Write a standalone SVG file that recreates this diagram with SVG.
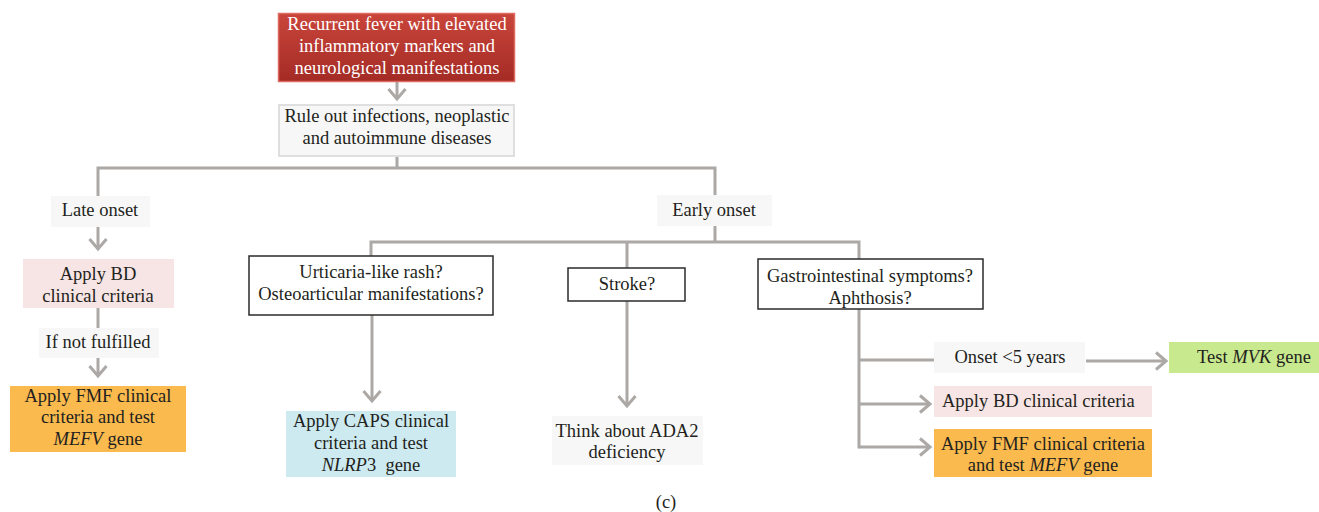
<svg xmlns="http://www.w3.org/2000/svg" width="1319" height="512" viewBox="0 0 1319 512">
<defs>
  <linearGradient id="redGrad" x1="0" y1="0" x2="0" y2="1">
    <stop offset="0" stop-color="#c9453b"/>
    <stop offset="1" stop-color="#a42b25"/>
  </linearGradient>
  <marker id="chev" markerUnits="userSpaceOnUse" markerWidth="24" markerHeight="24" refX="0" refY="0" viewBox="-12 -12 24 24" orient="auto" overflow="visible">
    <path d="M-10,-8.5 L0,0 L-10,8.5" fill="none" stroke="#aba8a5" stroke-width="3"/>
  </marker>
</defs>
<style>
  .t { font-family: "Liberation Serif", "Times New Roman", serif; font-size: 18.5px; fill: #231f20; }
  .c { text-anchor: middle; }
  .w { fill: #ffffff; }
  .i { font-style: italic; }
  .ln { fill: none; stroke: #aba8a5; stroke-width: 3; }
  .arr { fill: none; stroke: #aba8a5; stroke-width: 3; marker-end: url(#chev); }
  .grey { fill: #f7f7f7; }
  .q { fill: #ffffff; stroke: #2b2b2b; stroke-width: 1.5; }
  .pink { fill: #f7e4e4; }
  .orange { fill: #fbba4d; }
  .blue { fill: #cdeaf1; }
  .green { fill: #c8e98e; }
</style>

<g id="connectors">
  <path class="arr" d="M397,82 V99"/>
  <path class="ln" d="M397,156 V168 M98,168 H715 M98,166.5 V196 M715,166.5 V195"/>
  <path class="arr" d="M98,227 V249"/>
  <path class="ln" d="M98,308 V328"/>
  <path class="arr" d="M98,358 V376"/>
  <path class="ln" d="M715,226 V242 M371,242 H859 M371,240.5 V256 M627,242 V268 M859,240.5 V259"/>
  <path class="arr" d="M372,315 V401"/>
  <path class="arr" d="M627,301 V406"/>
  <path class="ln" d="M859,309 V447 M859,360 H934 M857.5,447 H860"/>
  <path class="arr" d="M859,404 H930"/>
  <path class="arr" d="M859,447 H930"/>
  <path class="arr" d="M1086,361 H1166"/>
</g>

<g id="n-fever">
  <rect x="278.5" y="13.5" width="236" height="68" fill="url(#redGrad)" stroke="#df6a60" stroke-width="1.5"/>
  <text class="t c w" x="397" y="30">Recurrent fever with elevated</text>
  <text class="t c w" x="397" y="52">inflammatory markers and</text>
  <text class="t c w" x="397" y="74">neurological manifestations</text>
</g>

<g id="n-ruleout">
  <rect x="279" y="105" width="235" height="51" fill="#f7f7f7" stroke="#dfdfdf" stroke-width="2"/>
  <text class="t c" x="397" y="122">Rule out infections, neoplastic</text>
  <text class="t c" x="397" y="144">and autoimmune diseases</text>
</g>

<g id="n-late">
  <rect class="grey" x="51" y="196" width="99" height="31"/>
  <text class="t c" x="100" y="216">Late onset</text>
</g>

<g id="n-bd-left">
  <rect class="pink" x="23" y="259" width="151" height="49"/>
  <text class="t c" x="98" y="280">Apply BD</text>
  <text class="t c" x="98" y="302">clinical criteria</text>
</g>

<g id="n-notfulfilled">
  <rect class="grey" x="39" y="328" width="120" height="30"/>
  <text class="t c" x="98" y="348">If not fulfilled</text>
</g>

<g id="n-fmf-left">
  <rect class="orange" x="10" y="386" width="176" height="66"/>
  <text class="t c" x="98" y="402">Apply FMF clinical</text>
  <text class="t c" x="98" y="423">criteria and test</text>
  <text class="t c" x="98" y="445"><tspan class="i">MEFV</tspan> gene</text>
</g>

<g id="n-early">
  <rect class="grey" x="657" y="195" width="115" height="31"/>
  <text class="t c" x="714" y="216">Early onset</text>
</g>

<g id="n-urticaria">
  <rect class="q" x="249" y="256" width="244" height="59"/>
  <text class="t c" x="371" y="278">Urticaria-like rash?</text>
  <text class="t c" x="371" y="300">Osteoarticular manifestations?</text>
</g>

<g id="n-stroke">
  <rect class="q" x="568" y="268" width="117" height="33"/>
  <text class="t c" x="627" y="290">Stroke?</text>
</g>

<g id="n-gi">
  <rect class="q" x="758" y="259" width="225" height="50"/>
  <text class="t c" x="870" y="282">Gastrointestinal symptoms?</text>
  <text class="t c" x="870" y="304">Aphthosis?</text>
</g>

<g id="n-caps">
  <rect class="blue" x="286" y="411" width="170" height="66"/>
  <text class="t c" x="371" y="427">Apply CAPS clinical</text>
  <text class="t c" x="371" y="449">criteria and test</text>
  <text class="t c" x="371" y="471"><tspan class="i">NLRP</tspan>3&#160; gene</text>
</g>

<g id="n-ada2">
  <rect class="grey" x="552" y="416" width="151" height="49"/>
  <text class="t c" x="627" y="437">Think about ADA2</text>
  <text class="t c" x="627" y="458">deficiency</text>
</g>

<g id="n-onset5">
  <rect class="grey" x="934" y="342" width="151" height="31"/>
  <text class="t c" x="1010" y="363">Onset &lt;5 years</text>
</g>

<g id="n-mvk">
  <rect class="green" x="1169" y="342" width="150" height="31"/>
  <text class="t c" x="1254" y="363">Test <tspan class="i">MVK</tspan> gene</text>
</g>

<g id="n-bd-right">
  <rect class="pink" x="934" y="386" width="218" height="31"/>
  <text class="t" x="942" y="407">Apply BD clinical criteria</text>
</g>

<g id="n-fmf-right">
  <rect class="orange" x="934" y="429" width="218" height="48"/>
  <text class="t c" x="1043" y="450">Apply FMF clinical criteria</text>
  <text class="t c" x="1043" y="471">and test <tspan class="i">MEFV</tspan> gene</text>
</g>

<text class="t c" x="666" y="508">(c)</text>
</svg>
